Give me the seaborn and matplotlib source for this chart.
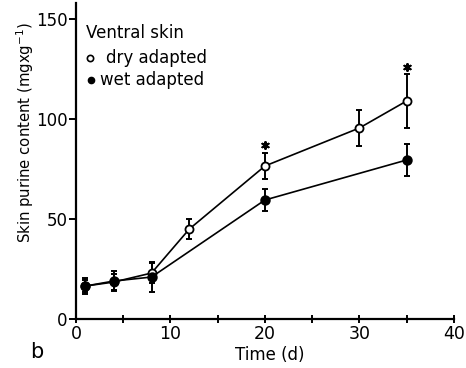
import matplotlib
matplotlib.use("Agg")
import matplotlib.pyplot as plt
import seaborn as sns
import pandas as pd
from matplotlib.ticker import MultipleLocator

sns.set_style("ticks")
plt.rcParams['font.family'] = ['DejaVu Sans']
for k in ["text.color", "axes.labelcolor", "xtick.color", "ytick.color", "axes.edgecolor"]:
    plt.rcParams[k] = "black"

dry_days = [1, 4, 8, 12, 20, 30, 35]
dry_vals = [16.5, 18.5, 23, 45, 76.5, 95.5, 109]
dry_err = [3, 4, 5, 5, 6.5, 9, 13.5]

wet_days = [1, 4, 8, 20, 35]
wet_vals = [16.5, 19, 21, 59.5, 79.5]
wet_err = [4, 5, 7.5, 5.5, 8]

star_days = [20, 35]
star_vals = [87, 126]

dry = pd.DataFrame({"day": dry_days, "val": dry_vals})
wet = pd.DataFrame({"day": wet_days, "val": wet_vals})

fig = plt.figure(figsize=(4.66, 3.68), dpi=100)
ax = fig.add_axes([0.163, 0.133, 0.811, 0.859])

ekw = dict(fmt="none", ecolor="black", elinewidth=1.4, capsize=2.2,
           capthick=1.4, zorder=2)
ax.errorbar(dry_days, dry_vals, yerr=dry_err, **ekw)
ax.errorbar(wet_days, wet_vals, yerr=wet_err, **ekw)

sns.lineplot(data=dry, x="day", y="val", color="black", marker="o",
             markersize=5.8, markerfacecolor="white", markeredgecolor="black",
             markeredgewidth=1.3, linewidth=1.2, ax=ax, zorder=3)
sns.lineplot(data=wet, x="day", y="val", color="black", marker="o",
             markersize=6.2, markerfacecolor="black", markeredgecolor="black",
             markeredgewidth=1.3, linewidth=1.2, ax=ax, zorder=4)

ax.scatter(star_days, star_vals, marker=(6, 2, 0), s=25, color="black",
           linewidths=1.5, zorder=5)

ax.set_xlim(0, 40)
ax.set_ylim(0, 158)
ax.set_xticks([0, 10, 20, 30, 40])
ax.xaxis.set_minor_locator(MultipleLocator(5))
ax.set_yticks([0, 50, 100, 150])
sns.despine(ax=ax)
for s in ["left", "bottom"]:
    ax.spines[s].set_linewidth(1.6)
ax.tick_params(axis="x", which="both", direction="inout", length=6, width=1.4,
               labelsize=12.5, pad=1)
ax.tick_params(axis="y", direction="out", length=5, width=1.4, labelsize=12, pad=1)

ax.set_xlabel("Time (d)", fontsize=12)
ax.xaxis.set_label_coords(0.513, -0.085)
ax.set_ylabel("Skin purine content (mgxg$^{-1}$)", fontsize=10.7)
ax.yaxis.set_label_coords(-0.135, 0.59)
ax.yaxis.label.set_verticalalignment("center")

ax.text(1.06, 143, "Ventral skin", fontsize=12, va="center")
ax.plot([1.5], [130.5], marker="o", ms=4.5, mfc="white", mec="black", mew=1.2,
        clip_on=False)
ax.text(3.17, 130.5, "dry adapted", fontsize=12, va="center")
ax.plot([1.6], [119.5], marker="o", ms=4.5, mfc="black", mec="black", clip_on=False)
ax.text(2.54, 119.5, "wet adapted", fontsize=12, va="center")

fig.text(37 / 466, 1 - 352 / 368, "b", fontsize=15, ha="center", va="center")

fig.savefig("out.png", dpi=100)
